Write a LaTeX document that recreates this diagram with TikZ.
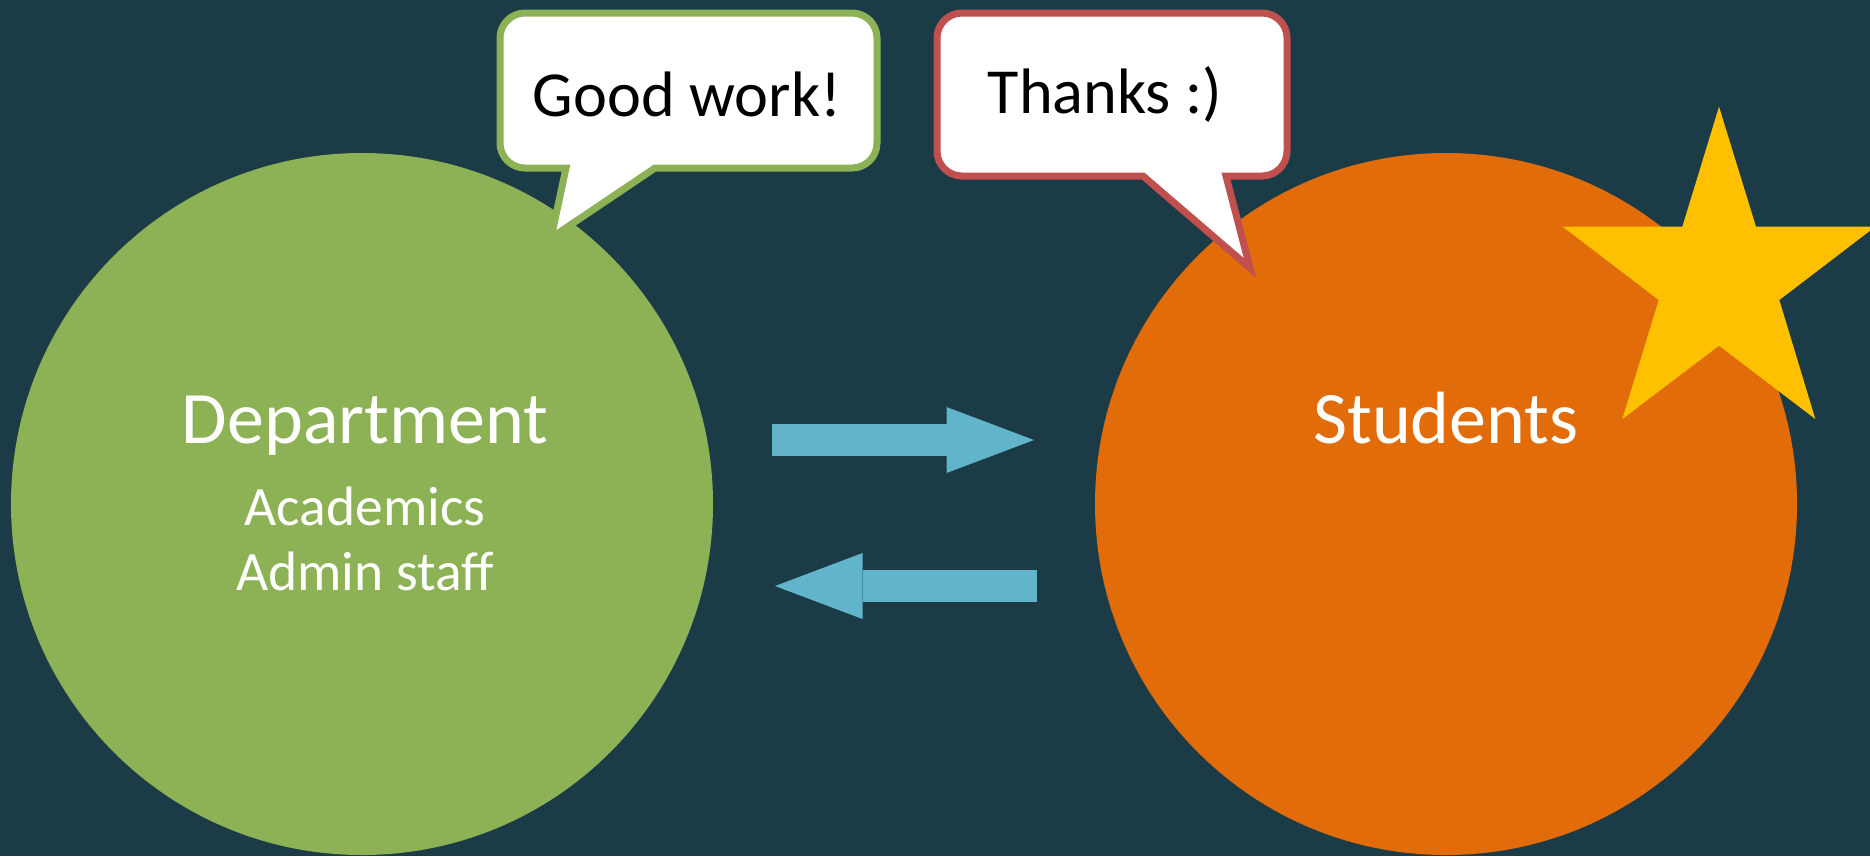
\documentclass[tikz,border=0pt]{standalone}
\usepackage{fontspec}
\setmainfont{Carlito}
\usetikzlibrary{arrows.meta}
\definecolor{slatebg}{HTML}{1B3B47}
\definecolor{deptgreen}{HTML}{8DB256}
\definecolor{studorange}{HTML}{E36C0A}
\definecolor{stargold}{HTML}{FFC000}
\definecolor{flowblue}{HTML}{62B4CA}
\definecolor{thanksred}{HTML}{C0504D}

\begin{document}
\begin{tikzpicture}[x=0.4pt,y=-0.4pt]
\tikzstyle{every node}+=[inner sep=0pt]
\tikzstyle{blob}=[circle,minimum size=280.8pt]
\tikzstyle{bigtext}=[text=white,font=\fontsize{29.6pt}{34pt}\selectfont,anchor=base]
\tikzstyle{smalltext}=[text=white,font=\fontsize{22.2pt}{26pt}\selectfont,anchor=base]
\tikzstyle{saytext}=[text=black,font=\fontsize{25.7pt}{30pt}\selectfont,anchor=base]
\tikzstyle{bubble}=[fill=white,line width=2.8pt,line join=miter]
\tikzstyle{flow}=[draw=flowblue,line width=13pt,-{Triangle[length=35pt,width=26.4pt,line width=0pt,fill=flowblue]}]
\useasboundingbox (0,0) rectangle (1870,856);
\fill [slatebg] (0,0) rectangle (1870,856);
\node [blob,fill=deptgreen] (dept) at (362,504) {};
\node [blob,fill=studorange] (stud) at (1446,504) {};
\node [bigtext] (deptname) at (365,443) {Department};
\node [smalltext] (acad) at (365,525) {Academics};
\node [smalltext] (admin) at (365,590) {Admin staff};
\node [bigtext] (studname) at (1446,443) {Students};
\draw [bubble,draw=deptgreen] (551,238) -- (655,168) [rounded corners=10pt] -- (877,168) -- (877,13) -- (500,13) -- (500,168) [sharp corners] -- (566,168) -- cycle;
\node [saytext] (praise) at (687,116) {Good work!};
\draw [bubble,draw=thanksred] (1250,268) -- (1226,176) [rounded corners=10pt] -- (1287,176) -- (1287,13) -- (937,13) -- (937,176) [sharp corners] -- (1143,176) -- cycle;
\node [saytext] (thanks) at (1105,113) {Thanks :)};
\fill [stargold] (1719,106.7) -- (1756,226.7) -- (1875.3,226.7) -- (1779.3,300) -- (1815.3,419) -- (1719,345.7) -- (1622.3,419) -- (1658.7,300) -- (1562.7,226.7) -- (1682.3,226.7) -- cycle;
\coordinate (r0) at (772,440);
\coordinate (r1) at (1034,440);
\coordinate (l0) at (1037,586);
\coordinate (l1) at (775,586);
\draw [flow] (r0) -- (r1);
\draw [flow] (l0) -- (l1);
\end{tikzpicture}
\end{document}
